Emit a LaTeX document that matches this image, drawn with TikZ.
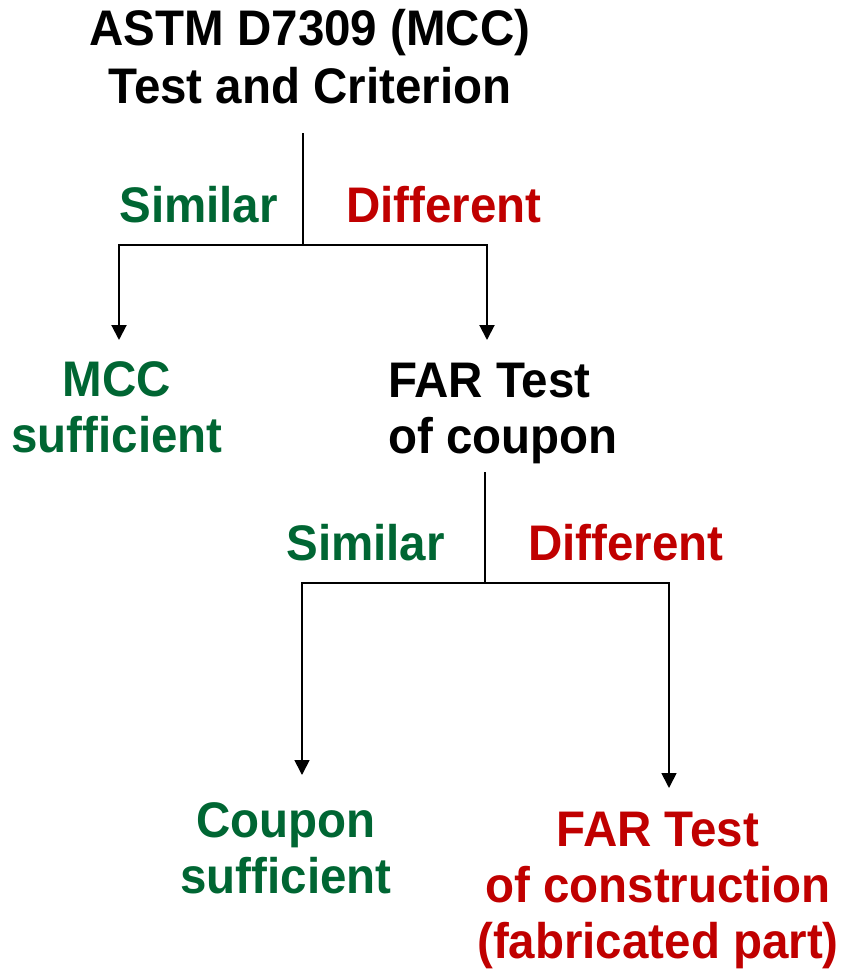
\documentclass[tikz,border=0pt]{standalone}
\usepackage{fontspec}
\setmainfont[FakeStretch=0.95]{Liberation Sans}
\usetikzlibrary{arrows.meta}
\definecolor{dgreen}{HTML}{006633}
\definecolor{dred}{HTML}{C00000}
\begin{document}
\begin{tikzpicture}[x=1pt,y=1pt,
  lbl/.style={inner sep=0pt, font=\fontsize{50}{56}\selectfont\bfseries, align=center},
  conn/.style={draw=black, line width=2pt},
  arr/.style={conn, -{Triangle[length=15pt,width=15pt]}}]
\useasboundingbox (0,0) rectangle (842,-970);
% texts (base anchor = baseline of last line)
\node[lbl, anchor=base, font=\fontsize{50}{58}\selectfont\bfseries] (title) at (310,-103) {ASTM D7309 (MCC)\\Test and Criterion};
\node[lbl, anchor=base east, text=dgreen] (sim1) at (278,-222) {Similar};
\node[lbl, anchor=base west, text=dred] (dif1) at (346,-222) {Different};
\node[lbl, anchor=base, text=dgreen] (mcc) at (117,-452) {MCC\\sufficient};
\node[lbl, anchor=base west, align=left] (far1) at (388,-453) {FAR Test\\of coupon};
\node[lbl, anchor=base east, text=dgreen] (sim2) at (445,-560) {Similar};
\node[lbl, anchor=base west, text=dred] (dif2) at (528,-560) {Different};
\node[lbl, anchor=base, text=dgreen] (coupon) at (286,-893) {Coupon\\sufficient};
\node[lbl, anchor=base, text=dred] (far2) at (658,-958) {FAR Test\\of construction\\(fabricated part)};
% connectors, first split
\coordinate (s1) at (303,-133);
\coordinate (j1) at (303,-245);
\coordinate (t1a) at (119,-340);
\coordinate (t1b) at (487,-340);
\draw[conn] (s1) -- (j1);
\draw[arr] (j1) -| (t1a);
\draw[arr] (j1) -| (t1b);
% second split
\coordinate (s2) at (485,-472);
\coordinate (j2) at (485,-583);
\coordinate (t2a) at (302,-775);
\coordinate (t2b) at (669,-788);
\draw[conn, line width=1.7pt] (s2) -- (j2);
\draw[arr, line width=1.7pt] (j2) -| (t2a);
\draw[arr, line width=1.7pt] (j2) -| (t2b);
\end{tikzpicture}
\end{document}
